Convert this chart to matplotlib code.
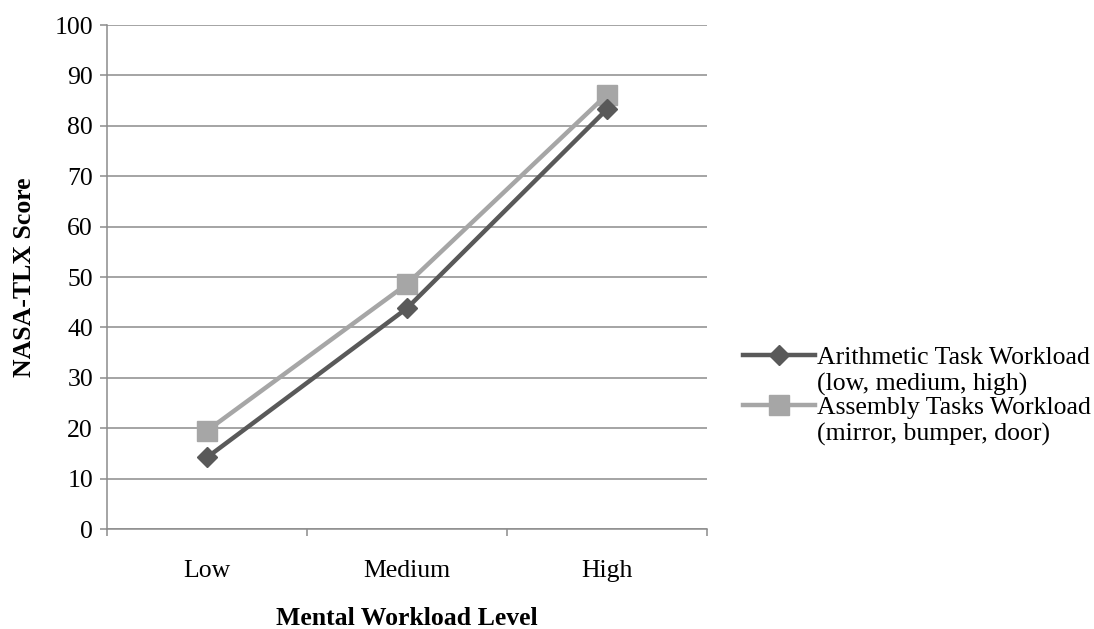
import matplotlib
matplotlib.use("Agg")
import matplotlib.pyplot as plt
from matplotlib.lines import Line2D
from matplotlib.ticker import FixedLocator

categories = ["Low", "Medium", "High"]
arithmetic = [14.2, 43.8, 83.3]
assembly = [19.5, 48.6, 86.2]
yticks = [0, 10, 20, 30, 40, 50, 60, 70, 80, 90, 100]

series_labels = [
    "Arithmetic Task Workload\n(low, medium, high)",
    "Assembly Tasks Workload\n(mirror, bumper, door)",
]

plt.rcParams["font.family"] = ["Liberation Serif", "DejaVu Serif"]

W, H = 1094, 629
FS = 18.5
fig = plt.figure(figsize=(W / 100, H / 100), dpi=100)
ax = fig.add_axes([107 / W, 1 - 529 / H, 600 / W, 504 / H])

dark = "#595959"
light = "#a6a6a6"
grid_c = "#8c8c8c"

x = list(range(len(categories)))
ax.plot(x, assembly, color=light, lw=3.2, marker="s", ms=14,
        mfc=light, mec=light, zorder=3, solid_joinstyle="round")
ax.plot(x, arithmetic, color=dark, lw=3.2, marker="D", ms=10.5,
        mfc=dark, mec=dark, zorder=4, solid_joinstyle="round")

ax.set_xlim(-0.5, 2.5)
ax.set_ylim(0, 100)
ax.set_yticks(yticks)
ax.yaxis.grid(True, color=grid_c, lw=1.1)
ax.set_axisbelow(True)

ax.set_xticks(x)
ax.set_xticklabels(categories)
ax.xaxis.set_minor_locator(FixedLocator([-0.5, 0.5, 1.5, 2.5]))
ax.tick_params(axis="x", which="major", length=0, pad=22, labelsize=FS)
ax.tick_params(axis="x", which="minor", length=5, width=1.1, color=grid_c, direction="out")
ax.tick_params(axis="y", length=5, width=1.1, color=grid_c, direction="out",
               labelsize=FS, pad=5)

for side in ["top", "right"]:
    ax.spines[side].set_visible(False)
for side in ["left", "bottom"]:
    ax.spines[side].set_color(grid_c)
    ax.spines[side].set_linewidth(1.1)

ax.set_ylabel("NASA-TLX Score", fontsize=FS, fontweight="bold", labelpad=13)
ax.set_xlabel("Mental Workload Level", fontsize=FS, fontweight="bold", labelpad=18)

# Legend drawn to the right of the plot, handle aligned with the first text line
entries = [(series_labels[0], dark, "D", 10.5, 355), (series_labels[1], light, "s", 14, 405)]
for label, col, mk, ms, ypx in entries:
    yf = 1 - ypx / H
    fig.add_artist(Line2D([743 / W, 815 / W], [yf, yf], transform=fig.transFigure,
                          color=col, lw=3.2))
    fig.add_artist(Line2D([779 / W], [yf], transform=fig.transFigure, color=col,
                          marker=mk, ms=ms, mfc=col, mec=col, lw=0))
    fig.text(817 / W, 1 - (ypx - 8) / H, label, fontsize=FS, va="top", ha="left",
             linespacing=1.2)

fig.savefig("out.png", dpi=100)
